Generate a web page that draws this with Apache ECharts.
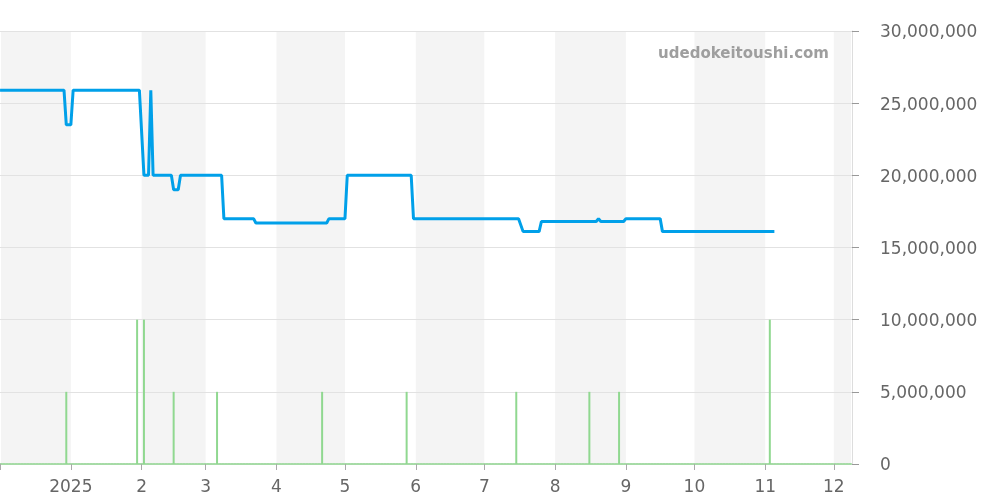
<!DOCTYPE html>
<html>
<head>
<meta charset="utf-8">
<script src="https://cdn.jsdelivr.net/npm/echarts@6/dist/echarts.min.js"></script>
<style>html,body{margin:0;padding:0;background:#fff}#c{width:1000px;height:500px}</style>
</head>
<body>
<div id="c"></div>
<script>
// ---- data ----
var priceDates = ['2024-12-01','2024-12-29','2024-12-30','2024-12-31','2025-01-01','2025-01-02','2025-01-31','2025-02-02','2025-02-04','2025-02-05','2025-02-06','2025-02-14','2025-02-15','2025-02-17','2025-02-18','2025-03-08','2025-03-09','2025-03-22','2025-03-23','2025-04-23','2025-04-24','2025-05-01','2025-05-02','2025-05-30','2025-05-31','2025-07-16','2025-07-18','2025-07-25','2025-07-26','2025-08-19','2025-08-20','2025-08-21','2025-08-31','2025-09-01','2025-09-16','2025-09-17','2025-11-05'];
var priceValues = [25900000,25900000,23500000,23500000,23500000,25900000,25900000,20000000,20000000,25900000,20000000,20000000,19000000,19000000,20000000,20000000,17000000,17000000,16700000,16700000,17000000,17000000,20000000,20000000,17000000,17000000,16100000,16100000,16800000,16800000,17000000,16800000,16800000,17000000,17000000,16100000,16100000];
var volumeDates = ['2024-12-30','2025-01-30','2025-02-02','2025-02-15','2025-03-06','2025-04-21','2025-05-28','2025-07-15','2025-08-16','2025-08-29','2025-11-03'];
var volumeValues = [5000000,10000000,10000000,5000000,5000000,5000000,5000000,5000000,5000000,5000000,10000000];
var shadedMonths = [['2024-12-01','2025-01-01'],['2025-02-01','2025-03-01'],['2025-04-01','2025-05-01'],['2025-06-01','2025-07-01'],['2025-08-01','2025-09-01'],['2025-10-01','2025-11-01'],['2025-12-01','2025-12-08T13:00:00']];
var xMin = '2024-12-01T10:00:00';
var xMax = '2025-12-08T13:00:00';
var yTicks = [0, 5000000, 10000000, 15000000, 20000000, 25000000, 30000000];
var watermark = 'udedokeitoushi.com';

// ---- build ----
var priceData = priceDates.map(function (d, i) { return [d, priceValues[i]]; });
var volumeData = volumeDates.map(function (d, i) { return [d, volumeValues[i]]; });
var minTime = new Date(xMin).getTime();
var maxTime = new Date(xMax).getTime();
var areas = shadedMonths.map(function (m) {
  var s = new Date(m[0]).getTime();
  return [{ xAxis: Math.max(s, minTime) }, { xAxis: m[1] }];
});
var FONT = '"DejaVu Sans", sans-serif';

var chart = echarts.init(document.getElementById('c'), null, { renderer: 'canvas' });
chart.setOption({
  animation: false,
  backgroundColor: '#fff',
  grid: { left: 0, right: 148, top: 31, bottom: 36, containLabel: false, outerBoundsMode: 'none' },
  xAxis: {
    type: 'time',
    min: xMin,
    max: xMax,
    minInterval: 30 * 86400000,
    maxInterval: 30 * 86400000,
    axisLine: { show: true, lineStyle: { color: '#a6dba6', width: 2, type: [2, 1] } },
    axisTick: { show: true, length: 6, lineStyle: { color: '#aaa' } },
    splitLine: { show: false },
    axisLabel: {
      showMinLabel: false, showMaxLabel: false,
      color: '#666', fontSize: 17, fontFamily: FONT, margin: 15,
      formatter: function (v) {
        var t = typeof v === 'number' ? v : new Date(v).getTime();
        if (t <= minTime || t >= maxTime) return '';
        var d = new Date(t);
        if (d.getDate() !== 1) return '';
        return d.getMonth() === 0 ? String(d.getFullYear()) : String(d.getMonth() + 1);
      }
    }
  },
  yAxis: {
    type: 'value',
    position: 'right',
    min: yTicks[0],
    max: yTicks[yTicks.length - 1],
    interval: yTicks[1] - yTicks[0],
    axisLine: { show: true, lineStyle: { color: '#ddd' } },
    axisTick: { show: true, length: 7, lineStyle: { color: '#999' } },
    splitLine: { show: true, lineStyle: { color: '#e2e2e2' } },
    axisLabel: {
      color: '#666', fontSize: 17, fontFamily: FONT, margin: 28,
      formatter: function (v) { return '{a|' + String(v).replace(/\B(?=(\d{3})+(?!\d))/g, ',') + '}'; },
      rich: { a: { color: '#666', fontSize: 17, fontFamily: FONT, padding: [4, 0, 0, 0] } }
    }
  },
  graphic: [{
    type: 'text', right: 171, top: 47,
    style: { text: watermark, font: 'bold 15px ' + FONT, fill: '#9e9e9e' }
  }],
  series: [
    {
      type: 'line', data: [], z: -1, silent: true,
      markArea: { silent: true, z: -1, itemStyle: { color: '#f4f4f4' }, data: areas }
    },
    {
      type: 'bar', data: volumeData, barWidth: 2, silent: true,
      itemStyle: { color: '#90d890' }
    },
    {
      type: 'line', data: priceData, symbol: 'none', silent: true,
      lineStyle: { color: '#00a0e9', width: 3 }
    }
  ]
});
</script>
</body>
</html>
